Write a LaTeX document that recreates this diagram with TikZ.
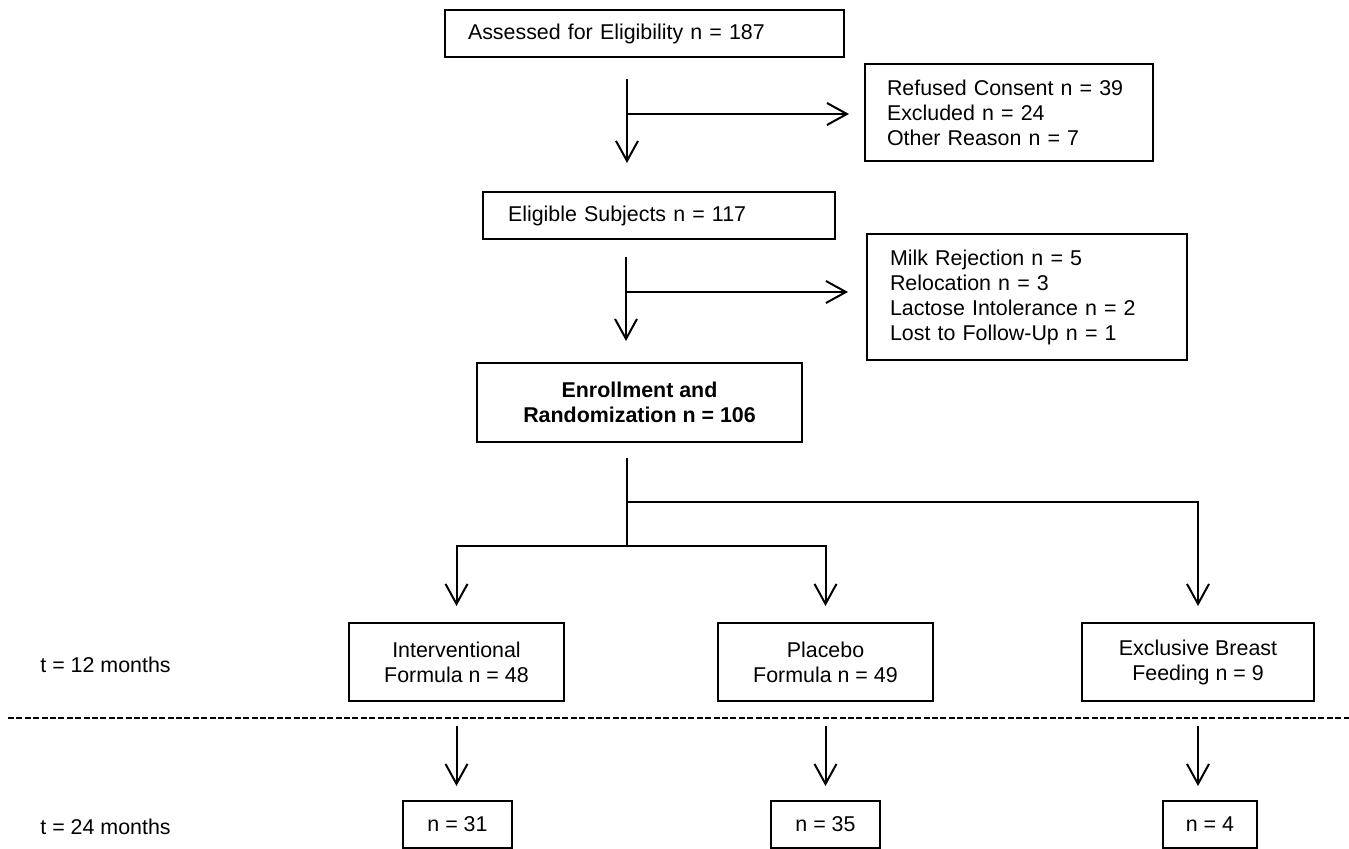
\documentclass[tikz,border=0pt]{standalone}
\usepackage{fontspec}
\setmainfont{Liberation Sans}
\usepackage{tikz}
\usetikzlibrary{calc,arrows.meta}
\tikzset{
	txt/.style={font=\fontsize{10.7}{12.5}\selectfont},
	box/.style={draw, txt, line width=1pt, inner ysep=0pt, minimum height=23.5pt},
	leftbox/.style={box, anchor=north west, align=left, inner xsep=11.5pt},
	midbox/.style={box, align=center},
	flow/.style={line width=1pt},
	arr/.style={flow, -{Straight Barb[length=10pt,width=11pt]}},
	lbl/.style={txt, anchor=west, inner sep=0pt}
}

\begin{document}
\begin{tikzpicture}[x=0.5pt, y=-0.5pt]
			%%%%% START %%%%%
			
			\useasboundingbox (0, 0) rectangle (1349, 849);
			
			\node[leftbox, text width=176.5pt] (assess) at (444, 9) {Assessed for Eligibility n = 187};
			\node[leftbox, text width=122pt, inner xsep=11pt, minimum height=48.5pt] (refused) at (864, 63) {Refused Consent n = 39\\Excluded n = 24\\Other Reason n = 7};
			\node[leftbox, text width=151pt, inner xsep=12.5pt] (eligible) at (482, 191) {Eligible Subjects n = 117};
			\node[leftbox, text width=137pt, minimum height=63pt] (reasons) at (866, 233) {Milk Rejection n = 5\\Relocation n = 3\\Lactose Intolerance n = 2\\Lost to Follow-Up n = 1};
			\node[midbox, minimum width=162.5pt, minimum height=39.5pt, font=\fontsize{10.7}{12.5}\selectfont\bfseries] (enroll) at (639.5, 402.5) {Enrollment and\\Randomization n = 106};
			
			\node[midbox, minimum width=107.5pt, minimum height=39pt] (interv) at (456.5, 662) {Interventional\\Formula n = 48};
			\node[midbox, minimum width=107.5pt, minimum height=39pt] (placebo) at (825.5, 662) {Placebo\\Formula n = 49};
			\node[midbox, minimum width=116pt, minimum height=39pt] (breast) at (1198, 662) {Exclusive Breast\\Feeding n = 9};
			
			\node[midbox, minimum width=54.5pt] (n31) at (457.5, 824.5) {n = 31};
			\node[midbox, minimum width=54.5pt] (n35) at (825.5, 824.5) {n = 35};
			\node[midbox, minimum width=47pt] (n4) at (1210, 824.5) {n = 4};
			
			\node[lbl] (t12) at (40, 665) {t = 12 months};
			\node[lbl] (t24) at (40, 827) {t = 24 months};
			
			\draw[flow, line width=1.2pt, dash pattern=on 3pt off 1.2pt] (8, 718) -- (1349, 718);
			
			\coordinate (s1) at (627, 114);
			\coordinate (s2) at (626, 292);
			\coordinate (b0) at (627, 546);
			\coordinate (b1) at (627, 502);
			
			\draw[arr, shorten <=10.5pt, shorten >=14pt] (assess.south -| s1) -- (eligible.north -| s1);
			\draw[arr, shorten >=7.5pt] (s1) -- (s1 -| refused.west);
			\draw[arr, shorten <=8.5pt, shorten >=10.5pt] (eligible.south -| s2) -- (enroll.north -| s2);
			\draw[arr, shorten >=9pt] (s2) -- (s2 -| reasons.west);
			
			\draw[flow, shorten <=7.5pt] (enroll.south -| b0) -- (b0);
			\draw[arr, shorten >=8pt] (b0) -| (interv.north);
			\draw[arr, shorten >=8pt] (b0) -| (placebo.north);
			\draw[arr, shorten >=8pt] (b1) -| (breast.north);
			
			\draw[arr, shorten <=12pt, shorten >=7pt] (interv.south) -- (interv.south |- n31.north);
			\draw[arr, shorten <=12pt, shorten >=7pt] (placebo.south) -- (placebo.south |- n35.north);
			\draw[arr, shorten <=12pt, shorten >=7pt] (breast.south) -- (breast.south |- n4.north);
			
			%%%%% END %%%%%
\end{tikzpicture}
\end{document}
